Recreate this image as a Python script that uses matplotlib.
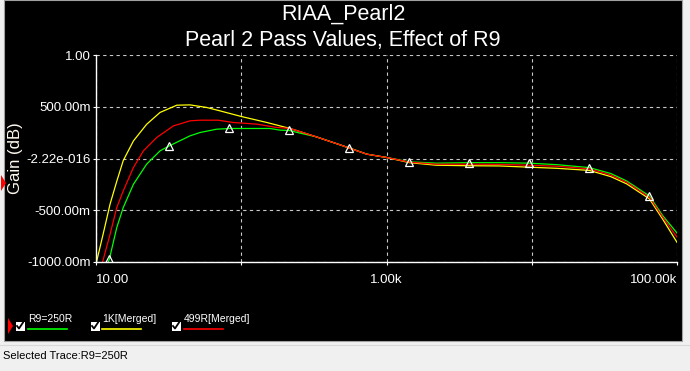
import matplotlib
matplotlib.use('Agg')
import matplotlib.pyplot as plt
from matplotlib.patches import Rectangle, Polygon
from matplotlib.lines import Line2D

plt.rcParams['font.family'] = ['Liberation Sans', 'DejaVu Sans']

W, H = 690, 371

# R9 = 250R (selected trace)
freq_250r = [10, 12.35, 13.9, 15.4, 18.1, 22.3, 27.6, 32.0, 44.4, 52, 67.6, 82.8, 158, 185, 214,
             254, 330, 479, 555, 731, 1000, 1436, 2200, 3715, 6000, 9630, 15000, 24900, 35000,
             45000, 64600, 80000, 100000]
gain_250r = [-1.3, -0.974, -0.667, -0.474, -0.249, -0.055, 0.074, 0.122, 0.219, 0.251, 0.283, 0.29,
             0.29, 0.274, 0.271, 0.245, 0.209, 0.132, 0.102, 0.042, 0.01, -0.032, -0.045, -0.04,
             -0.04, -0.045, -0.06, -0.088, -0.145, -0.217, -0.362, -0.555, -0.72]

# 1K [Merged]
freq_1k = [10, 11.2, 12.5, 13.9, 15.4, 18.1, 22.3, 27.6, 36, 44.4, 52, 57.8, 71.5, 100, 150, 217,
           313, 479, 731, 1000, 1436, 2200, 3715, 6000, 9630, 15000, 24900, 35000, 45000, 64600,
           80000, 100000]
gain_1k = [-1.02, -0.73, -0.44, -0.22, -0.02, 0.17, 0.33, 0.445, 0.515, 0.518, 0.503, 0.493, 0.46,
           0.406, 0.348, 0.29, 0.219, 0.132, 0.042, 0.01, -0.04, -0.065, -0.07, -0.072, -0.084,
           -0.095, -0.115, -0.175, -0.245, -0.39, -0.59, -0.81]

# 499R [Merged]
freq_499r = [10, 11.1, 12.5, 13.9, 15.4, 18.1, 21.2, 26.2, 34.1, 44.4, 52, 69.5, 88, 128, 175, 217,
             313, 479, 731, 1000, 1436, 2200, 3715, 6000, 9630, 15000, 24900, 35000, 45000, 64600,
             80000, 100000]
gain_499r = [-1.25, -1.0, -0.732, -0.474, -0.313, -0.087, 0.074, 0.203, 0.315, 0.364, 0.37, 0.37,
             0.348, 0.332, 0.30, 0.29, 0.219, 0.132, 0.042, 0.01, -0.035, -0.055, -0.055, -0.057,
             -0.065, -0.075, -0.1, -0.16, -0.23, -0.375, -0.57, -0.76]

# triangle markers on the selected trace
marker_freq = [12.35, 32.0, 82.8, 214, 555, 1436, 3715, 9630, 24900, 64600]
marker_gain = [-0.974, 0.122, 0.29, 0.271, 0.102, -0.032, -0.04, -0.04, -0.091, -0.363]

x_ticks = [10, 100, 1000, 10000, 100000]
x_labels = ['10.00', '', '1.00k', '', '100.00k']
y_ticks = [-1.0, -0.5, 0.0, 0.5, 1.0]
y_labels = ['-1000.00m', '-500.00m', '-2.22e-016', '500.00m', '1.00']

legend_names = ['R9=250R', '1K[Merged]', '499R[Merged]']
legend_colors = ['#00ff00', '#ffff00', '#ff0000']


def fx(x):
    return x / W


def fy(y):
    return 1 - y / H


fig = plt.figure(figsize=(6.9, 3.71), dpi=100, facecolor='#f0f0f0')

# black plot window and status bar
panel = Rectangle((fx(4), fy(341)), fx(678), 341 / H, transform=fig.transFigure,
                  facecolor='black', edgecolor='#a0a0a0', linewidth=0.8)
panel.set_zorder(-5)
fig.add_artist(panel)
fig.add_artist(Line2D([0, 1], [fy(345), fy(345)], transform=fig.transFigure,
                      color='#d8d8d8', linewidth=0.8))
fig.text(fx(3), fy(356), 'Selected Trace:R9=250R', color='black', fontsize=8, va='center')

ax = fig.add_axes([fx(96), fy(262), fx(677 - 96), (262 - 55) / H])
ax.set_facecolor('black')

ax.plot(freq_250r, gain_250r, color=legend_colors[0], linewidth=0.9)
ax.plot(freq_1k, gain_1k, color=legend_colors[1], linewidth=0.9)
ax.plot(freq_499r, gain_499r, color=legend_colors[2], linewidth=0.9)
ax.plot(marker_freq, marker_gain, linestyle='none', marker='^', markersize=5.5,
        markerfacecolor='none', markeredgecolor='white', markeredgewidth=0.9)

ax.set_xscale('log')
ax.set_xlim(10, 100000)
ax.set_ylim(-1, 1)
ax.set_xticks(x_ticks)
ax.set_xticklabels(x_labels)
ax.minorticks_off()
ax.set_yticks(y_ticks)
ax.set_yticklabels(y_labels)
for lbl, ha in zip(ax.get_xticklabels(), ['left', 'center', 'center', 'center', 'right']):
    lbl.set_horizontalalignment(ha)

ax.grid(True, color='#c8c8c8', linestyle=(0, (3, 3)), linewidth=0.8)
ax.tick_params(colors='white', labelsize=9.5, length=2.5, width=0.8, pad=1.5)
ax.tick_params(axis='x', pad=6)
for side in ['top', 'right']:
    ax.spines[side].set_visible(False)
for side in ['left', 'bottom']:
    ax.spines[side].set_color('white')
    ax.spines[side].set_linewidth(1.0)

fig.text(fx(15.5), fy(158), 'Gain (dB)', color='#fffaf0', fontsize=12, rotation=90,
         ha='center', va='center')
fig.text(fx(343), fy(19.7), 'RIAA_Pearl2', color='white', fontsize=15.5, ha='center',
         va='baseline')
fig.text(fx(343), fy(45.7), 'Pearl 2 Pass Values, Effect of R9', color='white', fontsize=15.5,
         ha='center', va='baseline')

# red arrows on the left edge
for yc in [183, 326]:
    x0 = 1 if yc == 183 else 8
    fig.add_artist(Polygon([(fx(x0), fy(yc - 8)), (fx(x0), fy(yc + 8)), (fx(x0 + 5), fy(yc))],
                           closed=True, transform=fig.transFigure, facecolor='red',
                           edgecolor='none'))

# legend with check boxes
box_x = [20, 95, 176]
text_x = [28, 102, 184]
for bx, tx, name, col in zip(box_x, text_x, legend_names, legend_colors):
    fig.add_artist(Rectangle((fx(bx - 4.5), fy(330.5)), 9 / W, 9 / H, transform=fig.transFigure,
                             facecolor='white', edgecolor='none'))
    fig.add_artist(Line2D([fx(bx - 3), fx(bx - 1), fx(bx + 3)],
                          [fy(326), fy(328.5), fy(322.5)], transform=fig.transFigure,
                          color='black', linewidth=1.3))
    fig.text(fx(tx), fy(319.5), name, color='white', fontsize=7.5, va='center')
    fig.add_artist(Line2D([fx(tx), fx(tx + 39)], [fy(328.5), fy(328.5)],
                          transform=fig.transFigure, color=col, linewidth=1.2))

fig.savefig('out.png', dpi=100, facecolor=fig.get_facecolor())
